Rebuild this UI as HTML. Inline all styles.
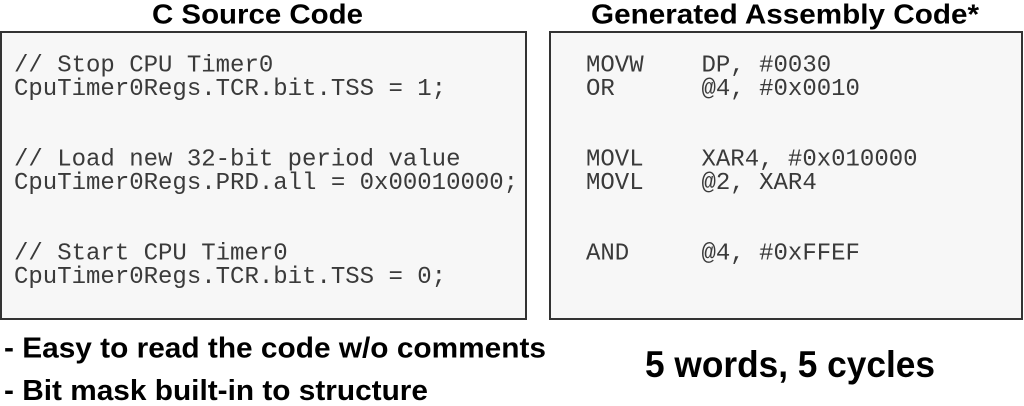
<!DOCTYPE html>
<html>
<head>
<meta charset="utf-8">
<style>
  html,body{margin:0;padding:0;background:#fff;}
  body{width:1024px;height:406px;overflow:hidden;}
  svg{display:block;}
  .h{font-family:"Liberation Sans",Arial,sans-serif;font-weight:bold;fill:#000;}
  .c{font-family:"Liberation Mono","Courier New",monospace;font-size:24px;fill:#3a3a3a;}
</style>
</head>
<body>
<svg width="1024" height="406" viewBox="0 0 1024 406" xmlns="http://www.w3.org/2000/svg">
  <!-- headings -->
  <text class="h" x="152" y="23.5" font-size="27.5" textLength="211" lengthAdjust="spacingAndGlyphs">C Source Code</text>
  <text class="h" x="591" y="23.5" font-size="27.5" textLength="388" lengthAdjust="spacingAndGlyphs">Generated Assembly Code*</text>

  <!-- boxes -->
  <rect x="1" y="32" width="525" height="287" fill="#f7f7f7" stroke="#333" stroke-width="2"/>
  <rect x="550" y="32" width="472" height="287" fill="#f7f7f7" stroke="#333" stroke-width="2"/>

  <!-- C code -->
  <text class="c" x="14" y="71.5">// Stop CPU Timer0</text>
  <text class="c" x="14" y="95">CpuTimer0Regs.TCR.bit.TSS = 1;</text>
  <text class="c" x="14" y="165.5">// Load new 32-bit period value</text>
  <text class="c" x="14" y="189">CpuTimer0Regs.PRD.all = 0x00010000;</text>
  <text class="c" x="14" y="259.5">// Start CPU Timer0</text>
  <text class="c" x="14" y="283">CpuTimer0Regs.TCR.bit.TSS = 0;</text>

  <!-- Assembly -->
  <text class="c" x="586" y="71.5">MOVW</text>
  <text class="c" x="701.5" y="71.5">DP, #0030</text>
  <text class="c" x="586" y="95">OR</text>
  <text class="c" x="701.5" y="95">@4, #0x0010</text>
  <text class="c" x="586" y="165.5">MOVL</text>
  <text class="c" x="701.5" y="165.5">XAR4, #0x010000</text>
  <text class="c" x="586" y="189">MOVL</text>
  <text class="c" x="701.5" y="189">@2, XAR4</text>
  <text class="c" x="586" y="259.5">AND</text>
  <text class="c" x="701.5" y="259.5">@4, #0xFFEF</text>

  <!-- bottom notes -->
  <text class="h" x="4" y="357.5" font-size="28.5" textLength="542" lengthAdjust="spacingAndGlyphs">- Easy to read the code w/o comments</text>
  <text class="h" x="4" y="400" font-size="28.5" textLength="424" lengthAdjust="spacingAndGlyphs">- Bit mask built-in to structure</text>
  <text class="h" x="645" y="377" font-size="37.5" textLength="290" lengthAdjust="spacingAndGlyphs">5 words, 5 cycles</text>
</svg>
</body>
</html>
